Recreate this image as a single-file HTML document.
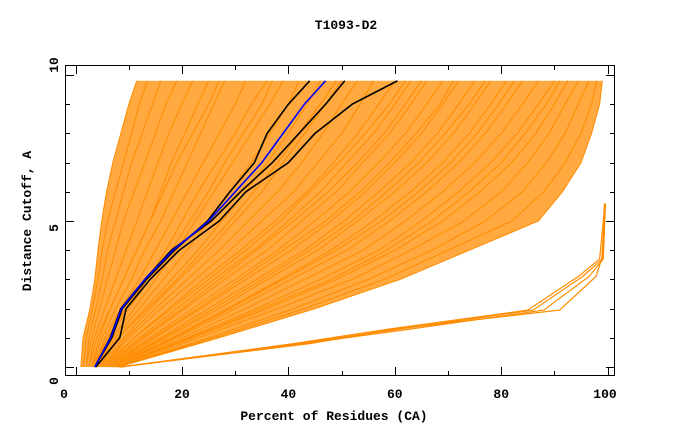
<!DOCTYPE html>
<html><head><meta charset="utf-8"><style>
body{margin:0;background:#fff}
svg text{font-family:"Liberation Mono",monospace;font-weight:bold;font-size:13px;fill:#000}
</style></head><body>
<svg id="chart" width="680" height="440" xmlns="http://www.w3.org/2000/svg">
<text x="346" y="29" text-anchor="middle">T1093-D2</text>
<text x="334" y="420" text-anchor="middle">Percent of Residues (CA)</text>
<text transform="translate(31,221) rotate(-90)" text-anchor="middle">Distance Cutoff, A</text>
<g id="plot"></g>
<g id="axes"></g>
</svg>
<script>
const levels=[0,1,2,3,4,5,6,7,8,9,9.8];
const xTicks=[0,20,40,60,80,100];
const yTicks=[0,5,10];
const mainSeries=[
[1,1.4,2.7,3.6,4.2,4.9,5.8,7,8.5,10,11.5],
[1.5,2,3.2,4.2,5,6,7.5,9,10.5,12,13.5],
[2,2.5,3.8,5,6,7.5,9,10.5,12.5,14.5,16],
[2,3,4.5,6,7.5,9,11,13,15,17,19],
[2.5,3.5,5.5,7.5,9.5,11.5,13.5,15.5,17.5,20,22],
[2.5,4,6.5,9,11.5,14,16.5,19,22,25,27],
[3,4.5,6.5,9,11.5,14,16,18,20.5,23,25],
[3,5,7.5,10.5,13,16,18.5,21,23.5,26,28],
[3,6,10,14,18,21.5,25,28,31.5,35,37],
[3.5,5.5,8.5,12,15,18,21,24,27,30,32],
[3.5,6,9.5,13.5,17,20,23,26.5,30,33,36],
[4,7,11,15,19,22.5,26,29.5,33,36.5,39],
[4,7.5,12,16.5,21,25,29,33,36.5,40,42],
[4,8,13.5,19,24,29,33.5,38,42,46,49],
[4.5,8,13,18,23,27.5,32,36,40,43.5,46],
[4.5,9,14,19.5,25,30,35,39,43,47,50],
[5,9.5,15,21,27,32.5,38,42.5,46.5,50,53],
[5,10,16,22.5,29,35,41,45.5,50,53.5,56],
[5,11,18,25,32,38.5,44,49.5,54.5,59,62],
[5.5,11,17.5,24,31,37.5,43.5,48.5,53,57,60],
[5.5,12,19,26,33.5,40,46,51,56,60,63],
[5.5,12.5,20,27,34,41,47.5,53,58,62,65],
[6,13,20.5,28,36,42.5,49,54,59,63,66],
[6,14,22,30,38,45,51.5,57,62,66,69],
[6,14.5,23,31,39,47,53.5,59,64,68.5,71],
[6.5,15,23.5,32,40.5,48,54.5,60,65,69,72],
[6.5,16,25,34,43,50.5,57,63,68,72,75],
[6.5,16.5,26,35,44,52,58.5,64.5,69.5,74,77],
[7,17,27,36,45.5,53,60,66,71,75,78],
[7,18,28.5,38.5,48,56,63,69,74,78,81],
[7,18.5,29,39,49,57.5,64.5,70.5,75.5,79.5,82.5],
[7,19,30,40.5,51,59,66,72,77,81,84],
[7.5,20,32,43,54,62,69,75,80,84,87],
[7.5,21,34,46,57,65,72,78,83,87,90],
[7.5,21.5,35,48,58.5,67,74,80,84.5,88.5,91],
[7.5,22,36,49,60,69,76,82,86.5,90,92.5],
[8,23,38,52,63,73,80,85,89,92,94.5],
[8,25,41,55,67,77,84,88.5,92,94.5,96.5],
[8,26,43,58,70,82,88,92,95,97,98],
[8,27,45,61,74,87,91.5,95,97,98.5,99]
];
const bottomLevels=[0,0.8,1.3,1.95,3.1,3.7,5.6];
const bottomSeries=[
[8.3,42,61,86,95.3,99,99.4],
[8.3,44,60,91,97.8,98.9,99.6],
[8.3,43,63,88,96.5,99.2,99.6],
[8.5,41,59,85,94.5,98.5,99.5]
];
const blackSeries=[
[3.6,6.8,8.8,13.3,18.6,24.8,29,33.6,36,40,44],
[3.6,6.5,8.5,13,18,25.5,31,37,42,47,50.6],
[3.8,8.3,9.5,14,19.5,27,32,40,45,52,60.5]
];
const blueSeries=[3.6,6.6,8.6,13,18.3,25,30,35,39,43,47];

const X=v=>75.6+v*5.32;
const Y=v=>367-v*29.2;
const NS="http://www.w3.org/2000/svg";
const plot=document.getElementById('plot');
const axes=document.getElementById('axes');
function mk(tag,attrs,parent){const e=document.createElementNS(NS,tag);for(const k in attrs)e.setAttribute(k,attrs[k]);parent.appendChild(e);return e;}
function pts(vals,lv){return vals.map((v,i)=>X(v).toFixed(1)+','+Y(lv[i]).toFixed(1)).join(' ');}

const mins=levels.map((l,i)=>Math.min(...mainSeries.map(s=>s[i])));
const maxs=levels.map((l,i)=>Math.max(...mainSeries.map(s=>s[i])));
const env=mk('polygon',{points:pts(mins,levels)+' '+pts(maxs.slice().reverse(),levels.slice().reverse()),fill:'#ff8c00','fill-opacity':'0.75'},plot);



mainSeries.forEach(s=>{
  const p=mk('polyline',{points:pts(s,levels),fill:'none',stroke:'#ff8c00','stroke-width':'1'},plot);
  
  
});
bottomSeries.forEach(s=>{
  const p=mk('polyline',{points:pts(s,bottomLevels),fill:'none',stroke:'#ff8c00','stroke-width':'1.2'},plot);
  
  
});
blackSeries.forEach(s=>{
  const p=mk('polyline',{points:pts(s,levels),fill:'none',stroke:'#000','stroke-width':'1.6'},plot);
  
  
});
const bl=mk('polyline',{points:pts(blueSeries,levels),fill:'none',stroke:'#0000ff','stroke-width':'1.6'},plot);



const fr=mk('rect',{x:65.5,y:65.5,width:549,height:310,fill:'none',stroke:'#000','stroke-width':'1'},axes);


for(let v=0;v<=100;v+=10){
  const len=v%20===0?8:4,x=Math.round(X(v))+0.5;
  const t=mk('path',{d:`M${x},375 v${-len} M${x},66 v${len}`,stroke:'#000'},axes);
  
  
}
for(let v=0;v<=10;v++){
  const len=v%5===0?8:4,y=Math.round(Y(v))+0.5;
  const t=mk('path',{d:`M66,${y} h${len} M614,${y} h${-len}`,stroke:'#000'},axes);
  
  
}
xTicks.forEach(v=>{
  const t=mk('text',{x:v===0?64:(v===100?605:X(v)),y:398,'text-anchor':'middle'},axes);
  t.textContent=v;
  
  
});
const yLabelCenters={0:381,5:228,10:65};
yTicks.forEach(v=>{
  const t=mk('text',{transform:`translate(58,${yLabelCenters[v]}) rotate(-90)`,'text-anchor':'middle'},axes);
  t.textContent=v;
  
  
});
</script>
</body></html>
